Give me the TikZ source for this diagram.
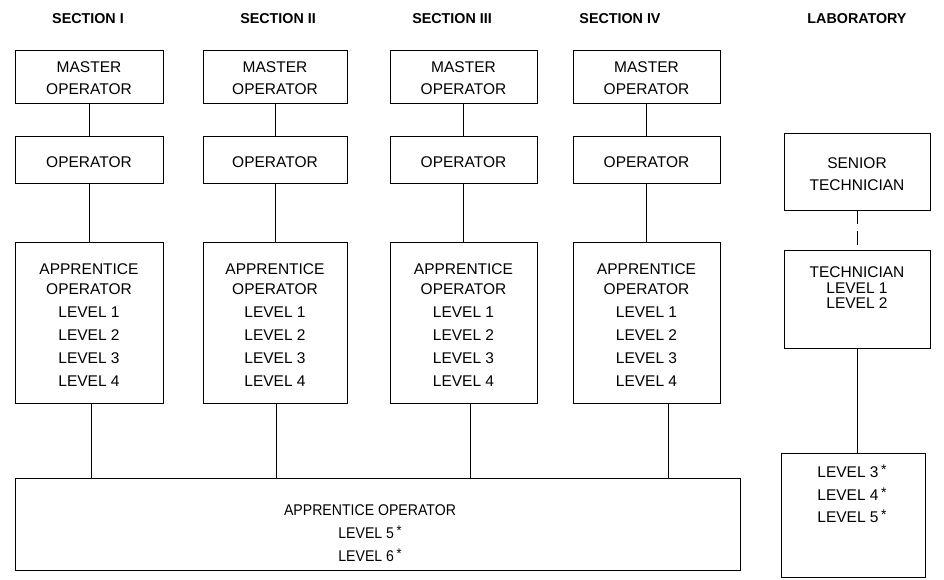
\documentclass[tikz,border=0pt]{standalone}
\usepackage{fontspec}
\setmainfont{Liberation Sans}
\newfontfamily\narrowfont[FakeStretch=0.91]{Liberation Sans}
\newcommand{\starmark}{\raisebox{3pt}{\fontsize{14}{14}\selectfont *}}
\newcommand{\dnstrut}[1]{\rule{0pt}{#1}}
\begin{document}
\begin{tikzpicture}[x=1pt,y=-1pt,
  box/.style={draw, line width=0.8pt, align=center, inner sep=0pt,
    font=\fontsize{15.5}{22}\selectfont},
  head/.style={font=\fontsize{14.3}{16}\selectfont\bfseries, inner sep=0pt},
  conn/.style={line width=0.8pt},
  dconn/.style={line width=1pt, dash pattern=on 14pt off 7pt}]
\useasboundingbox (0,0) rectangle (944,579);
% headers
\node[head] (h1) at (88,19) {SECTION I};
\node[head] (h2) at (278,19) {SECTION II};
\node[head] (h3) at (452,19) {SECTION III};
\node[head] (h4) at (620,19) {SECTION IV};
\node[head] (h5) at (857,19) {LABORATORY};
% sections
\foreach \i/\cx/\w in {1/89/148, 2/275/144, 3/463.5/147, 4/646.5/147}{
  \node[box, minimum width=\w, minimum height=53] (m\i) at (\cx,76.5) {\dnstrut{15pt}MASTER\\OPERATOR};
  \node[box, minimum width=\w, minimum height=47] (o\i) at (\cx,160) {\dnstrut{15pt}OPERATOR};
  \node[box, minimum width=\w, minimum height=161, font=\fontsize{15.5}{23}\selectfont] (a\i) at (\cx,322.5)
    {\dnstrut{15pt}APPRENTICE\\[-3pt]OPERATOR\\LEVEL 1\\LEVEL 2\\LEVEL 3\\LEVEL 4};
  \draw[conn] (m\i) -- (o\i);
  \draw[conn] (o\i) -- (a\i);
}
% big bottom box
\node[box, minimum width=725, minimum height=92] (big) at (377.5,524) {};
\node[font=\narrowfont\fontsize{15.5}{23}\selectfont, align=center, inner sep=0pt] (bigt) at (370,533)
  {APPRENTICE OPERATOR\\LEVEL 5\,\starmark\\LEVEL 6\,\starmark};
\coordinate (c1) at ([xshift=2pt]a1.south);
\coordinate (c2) at ([xshift=1pt]a2.south);
\coordinate (c3) at ([xshift=7pt]a3.south);
\coordinate (c4) at ([xshift=22pt]a4.south);
\foreach \i in {1,...,4}{\draw[conn] (c\i) -- (c\i |- big.north);}
% laboratory
\node[box, minimum width=146, minimum height=77] (st) at (857,171.5) {\dnstrut{17pt}SENIOR\\TECHNICIAN};
\node[box, minimum width=146, minimum height=98] (te) at (857,299) {};
\node[font=\fontsize{15.5}{15.5}\selectfont, align=center, inner sep=0pt] (tet) at (857,288)
  {TECHNICIAN\\LEVEL 1\\LEVEL 2};
\node[box, minimum width=144, minimum height=124] (lb) at (853,515) {};
\node[font=\fontsize{15.5}{22.5}\selectfont, align=center, inner sep=0pt] (lbt) at (852,494)
  {LEVEL 3\,\starmark\\LEVEL 4\,\starmark\\LEVEL 5\,\starmark};
\draw[dconn] (st) -- (te);
\draw[conn] (te) -- (te |- lb.north);
\end{tikzpicture}
\end{document}
